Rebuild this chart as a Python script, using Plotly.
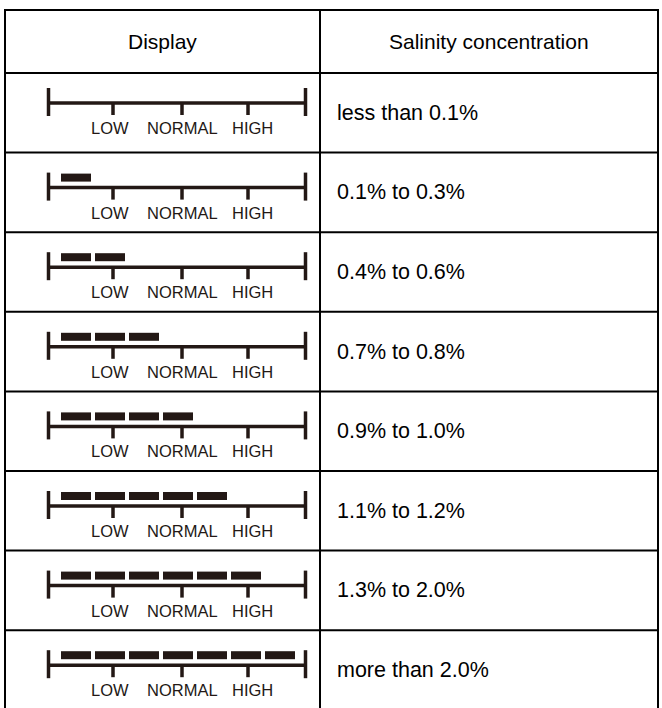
import plotly.graph_objects as go

# ---- data ----
headers = ["Display", "Salinity concentration"]
concentrations = ["less than 0.1%", "0.1% to 0.3%", "0.4% to 0.6%", "0.7% to 0.8%",
                  "0.9% to 1.0%", "1.1% to 1.2%", "1.3% to 2.0%", "more than 2.0%"]
segment_counts = [0, 1, 2, 3, 4, 5, 6, 7]
scale_labels = ["LOW", "NORMAL", "HIGH"]

# ---- layout constants (pixel space) ----
W, H = 662, 708
LEFT, DIV, RIGHT = 5, 320, 658
TOP, HEAD_BOT = 10, 73
ROW_H = 79.6
INK = "#231815"
CAP_L, CAP_R = 48.5, 305.5
TICK_X = [113, 182, 248]
LABEL_X = [110, 182, 252]
SEG_X0, SEG_W, SEG_PITCH = 61, 30, 34
FONT = "Liberation Sans, Arial, sans-serif"

fig = go.Figure()
shapes = []
annotations = []

def hline(y, x0=LEFT, x1=RIGHT, w=2, c="black"):
    shapes.append(dict(type="line", x0=x0, x1=x1, y0=y, y1=y, line=dict(color=c, width=w)))

def vline(x, y0, y1, w=2, c="black"):
    shapes.append(dict(type="line", x0=x, x1=x, y0=y0, y1=y1, line=dict(color=c, width=w)))

n = len(concentrations)
bottom = HEAD_BOT + n * ROW_H
hline(TOP)
hline(HEAD_BOT)
for i in range(1, n + 1):
    hline(HEAD_BOT + i * ROW_H)
vline(LEFT, TOP - 1, bottom)
vline(DIV, TOP - 1, bottom)
vline(RIGHT, TOP - 1, bottom)

for txt, xc in zip(headers, [(LEFT + DIV) / 2, (DIV + RIGHT) / 2]):
    annotations.append(dict(x=xc, y=(TOP + HEAD_BOT) / 2, text=txt, showarrow=False,
                            xanchor="center", yanchor="middle",
                            font=dict(family=FONT, size=21, color="black")))

seg_x, seg_base = [], []
for i, (conc, cnt) in enumerate(zip(concentrations, segment_counts)):
    top = HEAD_BOT + i * ROW_H
    ly = top + (30 if cnt == 0 else 35)
    shapes.append(dict(type="line", x0=CAP_L, x1=CAP_R, y0=ly, y1=ly, line=dict(color=INK, width=3.5)))
    for cx in (CAP_L, CAP_R):
        shapes.append(dict(type="line", x0=cx, x1=cx, y0=ly - 15, y1=ly + 13, line=dict(color=INK, width=3.5)))
    for tx in TICK_X:
        shapes.append(dict(type="line", x0=tx, x1=tx, y0=ly, y1=ly + 12, line=dict(color=INK, width=3.5)))
    for lab, lx in zip(scale_labels, LABEL_X):
        annotations.append(dict(x=lx, y=ly + 25, text=lab, showarrow=False,
                                xanchor="center", yanchor="middle",
                                font=dict(family=FONT, size=16.5, color=INK)))
    for k in range(cnt):
        seg_x.append(SEG_X0 + k * SEG_PITCH + SEG_W / 2)
        seg_base.append(ly - 14)
    annotations.append(dict(x=DIV + 15, y=top + ROW_H / 2, text=conc, showarrow=False,
                            xanchor="left", yanchor="middle",
                            font=dict(family=FONT, size=21.5, color="black")))

fig.add_trace(go.Bar(x=seg_x, y=[8] * len(seg_x), base=seg_base, width=SEG_W,
                     marker=dict(color=INK, line=dict(width=0)), hoverinfo="skip",
                     showlegend=False))

fig.update_layout(
    width=W, height=H, margin=dict(l=0, r=0, t=0, b=0),
    paper_bgcolor="white", plot_bgcolor="white",
    xaxis=dict(range=[0, W], visible=False, fixedrange=True),
    yaxis=dict(range=[H, 0], visible=False, fixedrange=True),
    shapes=shapes, annotations=annotations, showlegend=False,
)
fig.write_html(
    "out.html",
    config={"displayModeBar": False, "staticPlot": True},
    post_script="document.documentElement.style.margin='0';document.body.style.margin='0';"
                "document.body.style.overflow='hidden';",
)
